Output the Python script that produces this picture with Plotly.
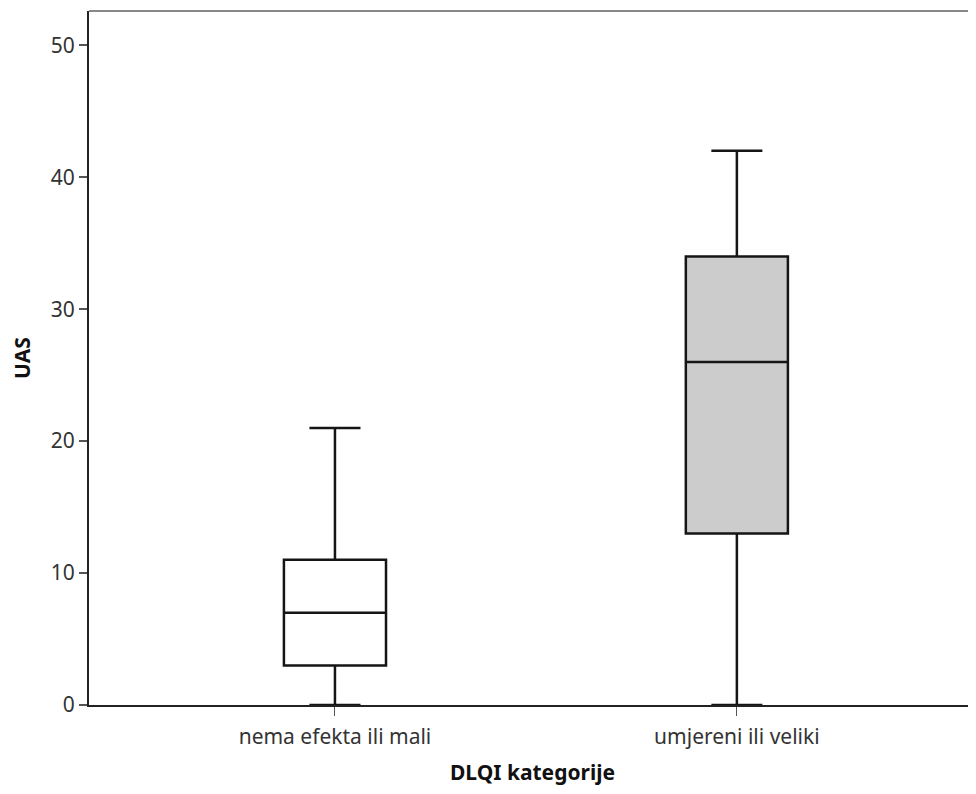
import plotly.graph_objects as go

# DLQI categories and UAS box statistics
CATEGORIES = ["nema efekta ili mali", "umjereni ili veliki"]
Q1 = [3, 13]
MEDIAN = [7, 26]
Q3 = [11, 34]
LOWER = [0, 0]
UPPER = [21, 42]
FILLS = ["#ffffff", "#cccccc"]

Y_TICKS = [0, 10, 20, 30, 40, 50]

FONT = "Noto Sans"

fig = go.Figure()

for i, cat in enumerate(CATEGORIES):
    fig.add_trace(go.Box(
        x=[i],
        q1=[Q1[i]], median=[MEDIAN[i]], q3=[Q3[i]],
        lowerfence=[LOWER[i]], upperfence=[UPPER[i]],
        name=cat,
        fillcolor=FILLS[i],
        line=dict(color="#151515", width=2.5),
        width=0.254,
        whiskerwidth=0.5,
        boxpoints=False,
        showlegend=False,
    ))

# page body has an 8px margin, so the figure is sized to fit inside the window
fig.update_layout(
    width=968, height=778,
    margin=dict(l=81, r=0, t=3, b=81),
    plot_bgcolor="white",
    paper_bgcolor="white",
    boxmode="overlay",
    font=dict(family=FONT, color="#333333"),
    shapes=[dict(type="line", xref="paper", yref="paper", x0=0, x1=1, y0=1, y1=1,
                 line=dict(color="#888888", width=2))],
)

fig.update_xaxes(
    range=[-0.612, 1.595],
    tickvals=[0, 1], ticktext=CATEGORIES,
    showline=True, linecolor="#222222", linewidth=2,
    ticks="outside", ticklen=9, tickcolor="#555555", tickwidth=1,
    ticklabelstandoff=3,
    tickfont=dict(size=21, color="#333333"),
    showgrid=False, zeroline=False,
    title=dict(text="<b>DLQI kategorije</b>", font=dict(size=21, color="#111111"), standoff=21),
)

fig.update_yaxes(
    range=[0, 52.6],
    tickvals=Y_TICKS,
    showline=True, linecolor="#222222", linewidth=2,
    ticks="outside", ticklen=8, tickcolor="#555555", tickwidth=2,
    tickfont=dict(size=21, color="#333333"),
    showgrid=False, zeroline=False,
    title=dict(text="<b>UAS</b>", font=dict(size=21, color="#111111"), standoff=18),
)

fig.write_html("out.html")
